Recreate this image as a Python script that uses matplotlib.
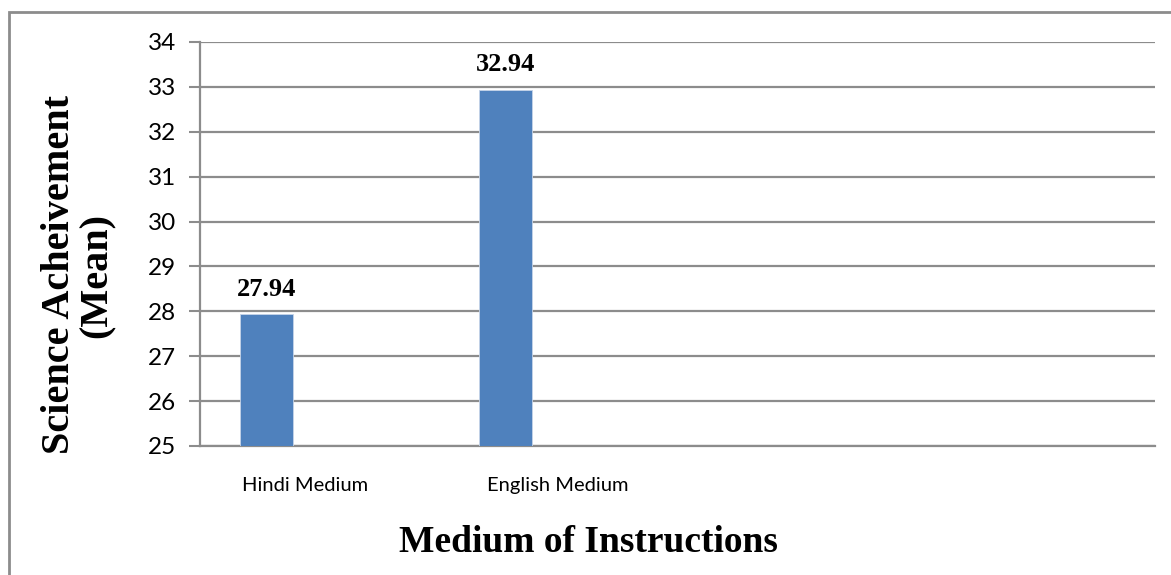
import matplotlib.pyplot as plt
from matplotlib.patches import Rectangle

# data
categories = ["Hindi Medium", "English Medium"]
means = [27.94, 32.94]
y_ticks = [25, 26, 27, 28, 29, 30, 31, 32, 33, 34]

n_slots = 4          # category slots along the x axis
bar_offset = -0.22   # bars sit left of the slot centre
bar_width = 0.222
label_pos = [0.44, 1.5]

bar_color = "#4F81BD"
grid_color = "#8C8C8C"

fig = plt.figure(figsize=(11.71, 5.75), dpi=100)
ax = fig.add_axes([200 / 1171, 1 - 446 / 575, 955 / 1171, 404 / 575])

xs = [i + 0.5 + bar_offset for i in range(len(categories))]
ax.bar(xs, [m - y_ticks[0] for m in means], bottom=y_ticks[0], width=bar_width,
       color=bar_color, edgecolor="#C6D4E8", linewidth=0.6, zorder=3)

for x, m in zip(xs, means):
    ax.text(x, m + 0.3, f"{m:.2f}", ha="center", va="bottom",
            family="Liberation Serif", fontweight="bold", fontsize=19)

ax.set_xlim(0, n_slots)
ax.set_ylim(y_ticks[0], y_ticks[-1])
ax.set_yticks(y_ticks)
ax.set_xticks(label_pos)
ax.set_xticklabels(categories, family="Lato", fontsize=14.5)
ax.tick_params(axis="x", length=0, pad=22)
ax.tick_params(axis="y", length=8, width=1.5, color=grid_color, pad=9,
               labelsize=17.5)
for lab in ax.get_yticklabels():
    lab.set_family("Lato")

ax.grid(axis="y", color=grid_color, linewidth=1.6, zorder=0)
for side in ["top", "right"]:
    ax.spines[side].set_visible(False)
ax.spines["left"].set_color(grid_color)
ax.spines["left"].set_linewidth(1.6)
ax.spines["bottom"].set_color(grid_color)
ax.spines["bottom"].set_linewidth(1.6)

# axis titles
fig.text(78 / 1171, 1 - 275 / 575, "Science Acheivement\n(Mean)",
         family="Liberation Serif", fontweight="bold", fontsize=29,
         rotation=90, ha="center", va="center", linespacing=1.02,
         multialignment="center")
fig.text(588 / 1171, 1 - 542 / 575, "Medium of Instructions",
         family="Liberation Serif", fontweight="bold", fontsize=27,
         ha="center", va="center")

# outer chart frame
fig.patches.append(Rectangle((9 / 1171, -0.1), 1.2, 1 - 12 / 575 + 0.1,
                             transform=fig.transFigure, fill=False,
                             edgecolor=grid_color, linewidth=2))

fig.savefig("out.png", dpi=100)
